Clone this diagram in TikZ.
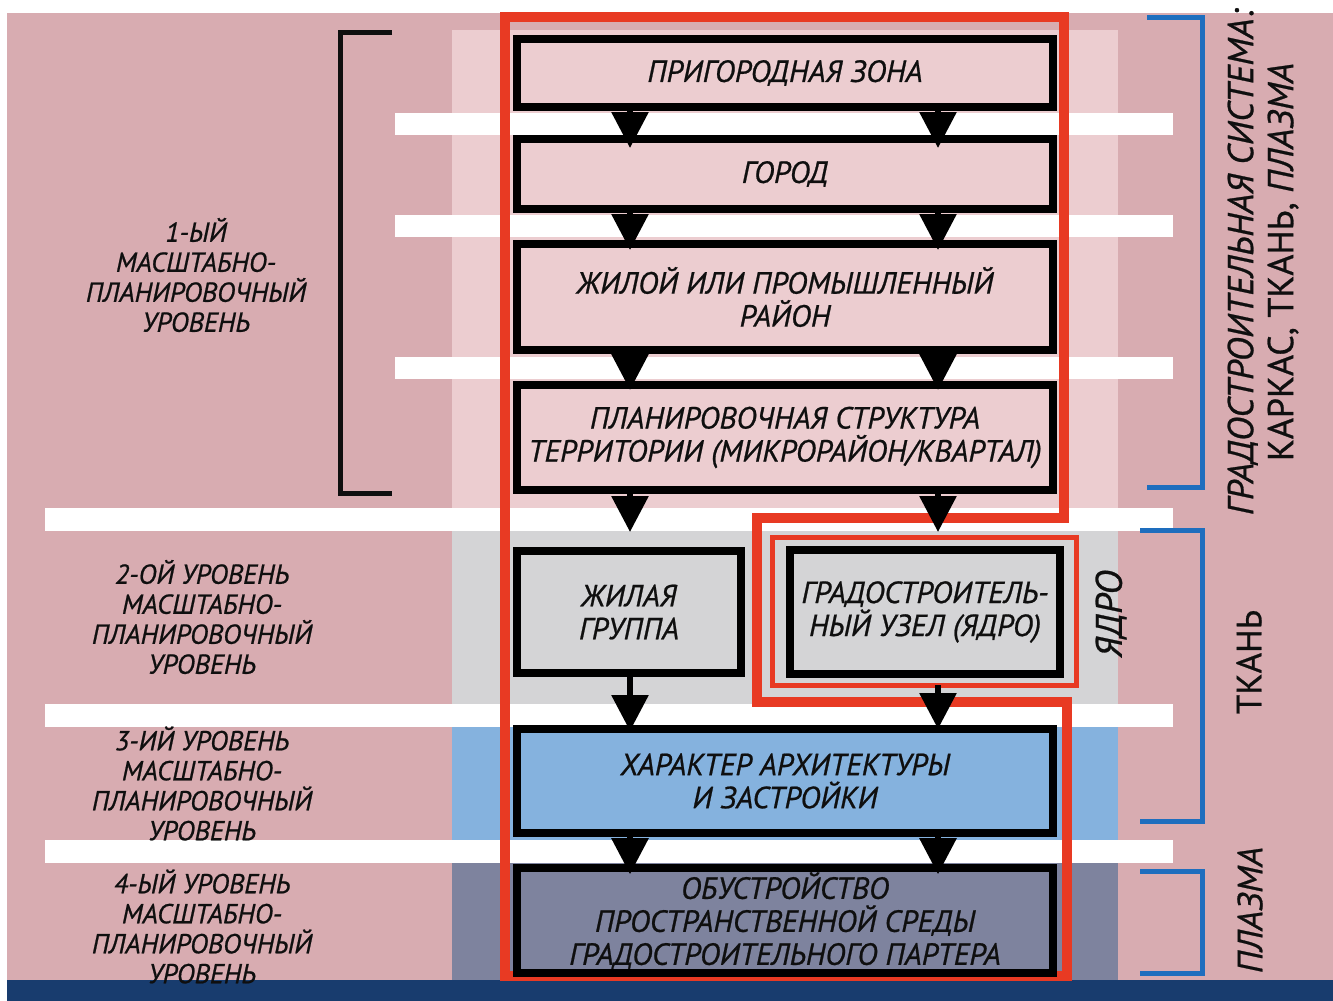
\documentclass[tikz,border=0pt]{standalone}
\usepackage{fontspec}
\setmainfont{PT Sans}[FakeBold=0.7]
\usepackage{tikz}
\usetikzlibrary{arrows.meta, positioning, calc}
\definecolor{myrose}{RGB}{216,172,177}
\definecolor{mylight}{RGB}{236,205,208}
\definecolor{mygrey}{RGB}{212,212,214}
\definecolor{mysky}{RGB}{133,178,222}
\definecolor{myslate}{RGB}{126,131,158}
\definecolor{mynavy}{RGB}{24,60,110}
\definecolor{myred}{RGB}{232,58,35}
\definecolor{myblue}{RGB}{30,110,190}
\definecolor{mydark}{RGB}{15,15,15}
\tikzset{
  lvlbox/.style={rectangle, draw=black, line width=4pt, outer sep=0pt,
    inner sep=2pt, align=center, text=mydark,
    font=\fontsize{15.3}{16.5}\selectfont\itshape},
  lvltext/.style={align=center, text=mydark,
    font=\fontsize{13.7}{15}\selectfont\itshape},
  sidetext/.style={rotate=90, align=center, text=mydark,
    font=\fontsize{17.5}{20}\selectfont},
  coreframe/.style={rectangle, draw=myred, line width=2.5pt, outer sep=0pt},
  flow/.style={-{Triangle[length=18pt,width=18pt]}, line width=3pt, color=black},
  redframe/.style={draw=myred, line width=5pt},
  bracket/.style={draw=myblue, line width=2.5pt}
}

\begin{document}
\begin{tikzpicture}[x=0.5pt, y=-0.5pt]
  \useasboundingbox (0,0) rectangle (1333,1001);
  \fill[white] (0,0) rectangle (1333,1001);
  \fill[myrose] (7,13) rectangle (1333,980);
  \fill[mynavy] (7,980) rectangle (1333,1001);

  % level columns
  \fill[mylight] (452,30) rectangle (1118,508);
  \fill[mygrey] (452,531) rectangle (1118,704);
  \fill[mysky] (452,727) rectangle (1118,840);
  \fill[myslate] (452,863) rectangle (1118,980);
  \foreach \y in {113,215,357}
    \fill[white] (395,\y) rectangle (1173,\y+22);
  \foreach \y in {508,704,840}
    \fill[white] (45,\y) rectangle (1173,\y+23);

  % brackets
  \draw[line width=2.5pt, draw=mydark] (392,32) -- (340,32) -- (340,493) -- (392,493);
  \draw[bracket] (1147,17) -- (1202,17) -- (1202,487) -- (1147,487);
  \draw[bracket] (1140,530) -- (1202,530) -- (1202,821) -- (1140,821);
  \draw[bracket] (1140,871) -- (1202,871) -- (1202,973) -- (1140,973);

  \draw[redframe] (505,17) -- (1064,17) -- (1064,518) -- (757,518) -- (757,702)
    -- (1067,702) -- (1067,976) -- (505,976) -- cycle;

  \node[lvlbox, fill=mylight, minimum width=268pt, minimum height=34pt] (b1) at (785,73) {ПРИГОРОДНАЯ ЗОНА};
  \node[lvlbox, fill=mylight, minimum width=268pt, minimum height=35pt] (b2) at (785,174) {ГОРОД};
  \node[lvlbox, fill=mylight, minimum width=268pt, minimum height=53pt] (b3) at (785,297) {ЖИЛОЙ ИЛИ ПРОМЫШЛЕННЫЙ\\РАЙОН};
  \node[lvlbox, fill=mylight, minimum width=268pt, minimum height=52.5pt] (b4) at (785,437.5) {ПЛАНИРОВОЧНАЯ СТРУКТУРА\\ТЕРРИТОРИИ (МИКРОРАЙОН/КВАРТАЛ)};
  \node[lvlbox, fill=mygrey, minimum width=112pt, minimum height=61pt] (b5) at (629,612) {ЖИЛАЯ\\ГРУППА};
  \node[coreframe, minimum width=152pt, minimum height=74pt] (core) at (924,611) {};
  \node[lvlbox, fill=mygrey, minimum width=135pt, minimum height=62pt] (b6) at (925,612) {ГРАДОСТРОИТЕЛЬ-\\НЫЙ УЗЕЛ (ЯДРО)};
  \node[lvlbox, fill=mysky, minimum width=268pt, minimum height=52pt] (b7) at (785,781) {ХАРАКТЕР АРХИТЕКТУРЫ\\И ЗАСТРОЙКИ};
  \node[lvlbox, fill=myslate, minimum width=268pt, minimum height=51.5pt] (b8) at (785,920.5) {ОБУСТРОЙСТВО\\ПРОСТРАНСТВЕННОЙ СРЕДЫ\\ГРАДОСТРОИТЕЛЬНОГО ПАРТЕРА};

  \coordinate (lx) at (630,0);
  \coordinate (rx) at (938,0);
  \foreach \a/\b/\s in {b1/b2/-4.5pt, b2/b3/-3pt, b3/b4/-2.5pt, b7/b8/-3pt} {
    \draw[flow, shorten >=\s] (\a.south -| lx) -- (\b.north -| lx);
    \draw[flow, shorten >=\s] (\a.south -| rx) -- (\b.north -| rx);
  }
  \draw[flow, shorten >=9.5pt] (b4.south -| lx) -- (b5.north -| lx);
  \draw[flow, shorten >=2.5pt] (b4.south -| rx) -- (core.north -| rx);
  \draw[flow, shorten >=-1pt] (b5.south -| lx) -- (b7.north -| lx);
  \draw[flow] (core.south -| rx) -- (b7.north -| rx);

  % level labels
  \node[lvltext] (l1) at (196,275) {1-ЫЙ\\МАСШТАБНО-\\ПЛАНИРОВОЧНЫЙ\\УРОВЕНЬ};
  \node[lvltext] (l2) at (202,617) {2-ОЙ УРОВЕНЬ\\МАСШТАБНО-\\ПЛАНИРОВОЧНЫЙ\\УРОВЕНЬ};
  \node[lvltext] (l3) at (202,783.5) {3-ИЙ УРОВЕНЬ\\МАСШТАБНО-\\ПЛАНИРОВОЧНЫЙ\\УРОВЕНЬ};
  \node[lvltext] (l4) at (202,926.5) {4-ЫЙ УРОВЕНЬ\\МАСШТАБНО-\\ПЛАНИРОВОЧНЫЙ\\УРОВЕНЬ};

  \node[sidetext, font=\fontsize{18}{20}\selectfont] (sys) at (1263,262) {{\itshape ГРАДОСТРОИТЕЛЬНАЯ СИСТЕМА:}\\КАРКАС, ТКАНЬ, {\itshape ПЛАЗМА}};
  \node[sidetext] (tk) at (1249,662) {ТКАНЬ};
  \node[sidetext] (pl) at (1250,910) {\itshape ПЛАЗМА};
  \node[sidetext, font=\fontsize{18.5}{20}\selectfont\itshape] (yd) at (1111,614) {ЯДРО};
\end{tikzpicture}
\end{document}
